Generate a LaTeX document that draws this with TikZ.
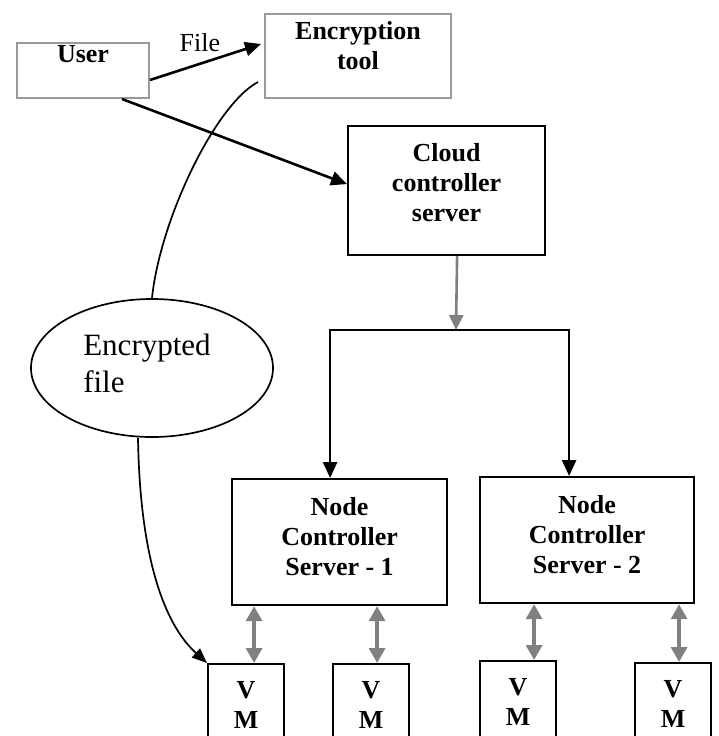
\documentclass[tikz,border=0pt]{standalone}
\usepackage{fontspec}
\setmainfont{Liberation Serif}
\usetikzlibrary{arrows.meta,positioning,shapes.geometric}

\begin{document}
\begin{tikzpicture}[x=1pt,y=-1pt,
    lbl/.style={font=\fontsize{26}{30}\selectfont\bfseries,align=center,
                inner sep=0pt,anchor=north},
    greybox/.style={draw=gray!80,line width=2pt,inner sep=0pt,anchor=north west},
    srvbox/.style={draw,line width=2.2pt,inner sep=0pt,anchor=north west},
    vmbox/.style={srvbox,minimum width=76pt,minimum height=100pt},
    blk/.style={-{Triangle[length=16pt,width=14pt]},line width=2.6pt},
    gry/.style={-{Triangle[length=15pt,width=14pt]},line width=2.6pt,gray},
    vmlink/.style={{Triangle[length=15pt,width=16pt]}-{Triangle[length=15pt,width=16pt]},
                   line width=3.4pt,gray},
    curv/.style={line width=1.7pt}]
  \useasboundingbox (0,0) rectangle (718,736);

  % top row
  \node[greybox,minimum width=132pt,minimum height=55pt,
        label={[lbl,yshift=-3pt]north:User}] (user) at (16,42) {};
  \node[greybox,minimum width=186pt,minimum height=84pt,
        label={[lbl,yshift=-8pt]north:Encryption\\tool}] (enc) at (264,13) {};
  \node[srvbox,minimum width=197pt,minimum height=129pt,
        label={[lbl,yshift=-18pt]north:Cloud\\controller\\server}] (cloud) at (347,125) {};

  % encrypted file
  \node[draw,ellipse,line width=1.7pt,minimum width=242pt,minimum height=138pt,
        inner sep=0pt,
        label={[font=\fontsize{31}{37}\selectfont,align=left,inner sep=0pt,
                anchor=center,xshift=-5pt,yshift=-65pt]90:Encrypted\\file}] (ef) at (152,368) {};

  % node controllers
  \node[srvbox,minimum width=215pt,minimum height=126pt,
        label={[lbl,yshift=-19pt]north:Node\\Controller\\Server - 1}] (nc1) at (231,478) {};
  \node[srvbox,minimum width=214pt,minimum height=126pt,
        label={[lbl,yshift=-19pt]north:Node\\Controller\\Server - 2}] (nc2) at (479,476) {};

  % virtual machines
  \node[vmbox,label={[lbl,yshift=-18pt]north:V\\M}] (vm1) at (207,663) {};
  \node[vmbox,label={[lbl,yshift=-18pt]north:V\\M}] (vm2) at (332,663) {};
  \node[vmbox,label={[lbl,yshift=-18pt]north:V\\M}] (vm3) at (479,660) {};
  \node[vmbox,label={[lbl,yshift=-18pt]north:V\\M}] (vm4) at (634,662) {};

  \coordinate (split) at (456,330);

  \draw[blk] ([yshift=-9.5pt]user.east) -- node[pos=0.45,above=7pt,
      font=\fontsize{26}{30}\selectfont]{File} ([xshift=-3pt,yshift=12pt]enc.west);
  \draw[blk] ([xshift=39pt]user.south) -- ([yshift=6.5pt]cloud.west);
  \draw[gry] ([xshift=10.5pt]cloud.south) -- (split);
  \draw[blk] (split) -| ([xshift=-9.5pt]nc1.north);
  \draw[blk] (split) -| ([xshift=-18pt]nc2.north);

  \draw[vmlink] ([xshift=8pt]vm1.north |- nc1.south) -- ([xshift=8pt]vm1.north);
  \draw[vmlink] ([xshift=6pt]vm2.north |- nc1.south) -- ([xshift=6pt]vm2.north);
  \draw[vmlink] ([xshift=16pt]vm3.north |- nc2.south) -- ([xshift=16pt]vm3.north);
  \draw[vmlink] ([xshift=6pt]vm4.north |- nc2.south) -- ([xshift=6pt]vm4.north);

  \draw[curv] ([xshift=-6pt,yshift=17pt]enc.south west)
      .. controls (215,105) and (160,220) .. (ef.north);
  \draw[curv,-{Triangle[length=15pt,width=12pt]}] ([xshift=-14pt]ef.south)
      .. controls (140,560) and (165,625) .. (vm1.north west);
\end{tikzpicture}
\end{document}
